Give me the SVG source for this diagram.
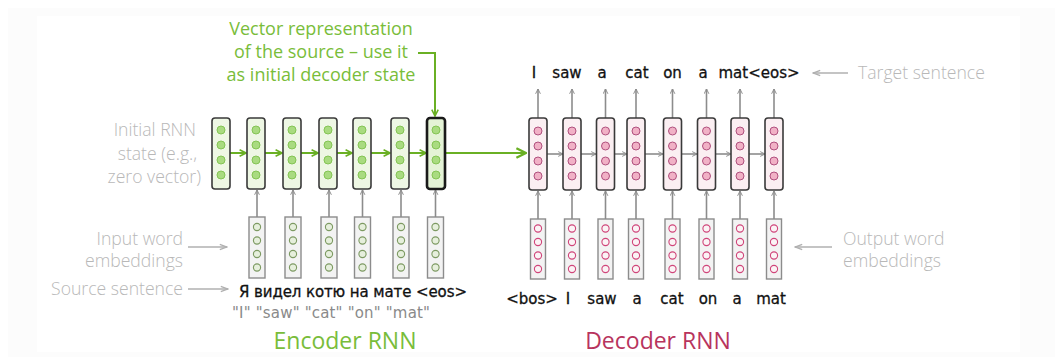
<svg xmlns="http://www.w3.org/2000/svg" width="1055" height="359" viewBox="0 0 1055 359">
<style>
.lbl{font-family:"Open Sans","Liberation Sans",sans-serif;font-size:17.6px;fill:#b8b8b8;font-weight:300}
.hw{font-family:"DejaVu Sans","Liberation Sans",sans-serif;font-size:15px;fill:#111;stroke:#111;stroke-width:0.3}
.q{font-family:"DejaVu Sans","Liberation Sans",sans-serif;font-size:15px;fill:#8a8a8a}
.grn{font-family:"Open Sans","Liberation Sans",sans-serif;font-size:18px;fill:#79bd3a}
.est{fill:#eef7e4;stroke:#3a3a3a;stroke-width:1.6}
.estL{fill:#e4f3d6;stroke:#1a1a1a;stroke-width:2.6}
.ec{fill:#a9db80;stroke:#84c454;stroke-width:1}
.eemb{fill:#f3f3f3;stroke:#8c8c8c;stroke-width:1.4}
.eec{fill:#e6efdc;stroke:#7d9a62;stroke-width:1.1}
.dst{fill:#fbeff2;stroke:#3a3a3a;stroke-width:1.6}
.dc{fill:#f1b1c6;stroke:#b0507e;stroke-width:1}
.demb{fill:#f3f3f3;stroke:#8c8c8c;stroke-width:1.4}
.dec{fill:#fbf3f5;stroke:#d0457a;stroke-width:1.1}
.ga{stroke:#8c8c8c;stroke-width:1.6;fill:none;marker-end:url(#ah)}
.la{stroke:#b0b0b0;stroke-width:1.5;fill:none;marker-end:url(#lh)}
.gr{stroke:#6ab024;stroke-width:2;fill:none;marker-end:url(#gh)}
</style>
<defs>
<marker id="ah" viewBox="0 0 10 10" refX="9" refY="5" markerWidth="6" markerHeight="6" markerUnits="userSpaceOnUse" orient="auto"><path d="M1,1 L9,5 L1,9" fill="none" stroke="#8c8c8c" stroke-width="1.6"/></marker>
<marker id="lh" viewBox="0 0 10 10" refX="9" refY="5" markerWidth="9" markerHeight="9" markerUnits="userSpaceOnUse" orient="auto"><path d="M1,2 L9,5 L1,8" fill="none" stroke="#b0b0b0" stroke-width="1.5"/></marker>
<marker id="gh" viewBox="0 0 10 10" refX="9" refY="5" markerWidth="8" markerHeight="8" markerUnits="userSpaceOnUse" orient="auto"><path d="M1,1 L9,5 L1,9" fill="none" stroke="#6ab024" stroke-width="2"/></marker>
<marker id="gh2" viewBox="0 0 10 10" refX="9" refY="5" markerWidth="12" markerHeight="12" markerUnits="userSpaceOnUse" orient="auto"><path d="M1,1 L9,5 L1,9" fill="none" stroke="#6ab024" stroke-width="2"/></marker>
</defs>
<rect x="0" y="0" width="1055" height="359" fill="#ffffff"/>
<rect x="8" y="8" width="1047" height="349" fill="#fcfcfc"/>
<rect x="37" y="16" width="983" height="336" fill="#ffffff"/>

<g id="connectors">
<!-- encoder recurrent -->
<line class="gr" x1="230" y1="153" x2="246" y2="153"/>
<line class="gr" x1="265" y1="153" x2="282" y2="153"/>
<line class="gr" x1="301" y1="153" x2="318" y2="153"/>
<line class="gr" x1="337" y1="153" x2="352" y2="153"/>
<line class="gr" x1="371" y1="153" x2="390" y2="153"/>
<line class="gr" x1="409" y1="153" x2="426" y2="153"/>
<line x1="446" y1="153" x2="526" y2="153" stroke="#6ab024" stroke-width="2.2" marker-end="url(#gh2)"/>
<path d="M418 53 H435 V116" stroke="#6ab024" stroke-width="2" fill="none" marker-end="url(#gh)"/>
<!-- encoder emb -> state -->
<line class="ga" x1="257" y1="217" x2="257" y2="190"/>
<line class="ga" x1="293" y1="217" x2="293" y2="190"/>
<line class="ga" x1="329" y1="217" x2="329" y2="190"/>
<line class="ga" x1="362.5" y1="217" x2="362.5" y2="190"/>
<line class="ga" x1="401" y1="217" x2="401" y2="190"/>
<line class="ga" x1="435.5" y1="217" x2="435.5" y2="190"/>
<!-- decoder recurrent -->
<line class="ga" x1="547" y1="154" x2="563" y2="154"/>
<line class="ga" x1="581" y1="154" x2="596" y2="154"/>
<line class="ga" x1="614" y1="154" x2="627" y2="154"/>
<line class="ga" x1="645" y1="154" x2="663" y2="154"/>
<line class="ga" x1="682" y1="154" x2="697" y2="154"/>
<line class="ga" x1="715" y1="154" x2="731" y2="154"/>
<line class="ga" x1="749" y1="154" x2="765" y2="154"/>
<!-- decoder emb -> state -->
<line class="ga" x1="538" y1="219" x2="538" y2="191"/>
<line class="ga" x1="572" y1="219" x2="572" y2="191"/>
<line class="ga" x1="605.5" y1="219" x2="605.5" y2="191"/>
<line class="ga" x1="636" y1="219" x2="636" y2="191"/>
<line class="ga" x1="672.5" y1="219" x2="672.5" y2="191"/>
<line class="ga" x1="706.5" y1="219" x2="706.5" y2="191"/>
<line class="ga" x1="740" y1="219" x2="740" y2="191"/>
<line class="ga" x1="774" y1="219" x2="774" y2="191"/>
<!-- decoder state -> output -->
<line class="ga" x1="538" y1="118" x2="538" y2="89"/>
<line class="ga" x1="572" y1="118" x2="572" y2="89"/>
<line class="ga" x1="605.5" y1="118" x2="605.5" y2="89"/>
<line class="ga" x1="636" y1="118" x2="636" y2="89"/>
<line class="ga" x1="672.5" y1="118" x2="672.5" y2="89"/>
<line class="ga" x1="706.5" y1="118" x2="706.5" y2="89"/>
<line class="ga" x1="740" y1="118" x2="740" y2="89"/>
<line class="ga" x1="774" y1="118" x2="774" y2="89"/>
<!-- label arrows -->
<line class="la" x1="188" y1="247" x2="227" y2="247"/>
<line class="la" x1="188" y1="289" x2="228" y2="289"/>
<line class="la" x1="848" y1="73" x2="813" y2="73"/>
<line class="la" x1="832" y1="247" x2="795" y2="247"/>
</g>

<g id="encoder-states">
<g id="enc-s1"><rect class="est" x="212" y="118" width="18" height="71" rx="3"/><circle class="ec" cx="221" cy="130" r="4"/><circle class="ec" cx="221" cy="145" r="4"/><circle class="ec" cx="221" cy="160" r="4"/><circle class="ec" cx="221" cy="175" r="4"/></g>
<g id="enc-s2"><rect class="est" x="247" y="118" width="18" height="71" rx="3"/><circle class="ec" cx="256" cy="130" r="4"/><circle class="ec" cx="256" cy="145" r="4"/><circle class="ec" cx="256" cy="160" r="4"/><circle class="ec" cx="256" cy="175" r="4"/></g>
<g id="enc-s3"><rect class="est" x="283" y="118" width="18" height="71" rx="3"/><circle class="ec" cx="292" cy="130" r="4"/><circle class="ec" cx="292" cy="145" r="4"/><circle class="ec" cx="292" cy="160" r="4"/><circle class="ec" cx="292" cy="175" r="4"/></g>
<g id="enc-s4"><rect class="est" x="319" y="118" width="18" height="71" rx="3"/><circle class="ec" cx="328" cy="130" r="4"/><circle class="ec" cx="328" cy="145" r="4"/><circle class="ec" cx="328" cy="160" r="4"/><circle class="ec" cx="328" cy="175" r="4"/></g>
<g id="enc-s5"><rect class="est" x="353" y="118" width="18" height="71" rx="3"/><circle class="ec" cx="362" cy="130" r="4"/><circle class="ec" cx="362" cy="145" r="4"/><circle class="ec" cx="362" cy="160" r="4"/><circle class="ec" cx="362" cy="175" r="4"/></g>
<g id="enc-s6"><rect class="est" x="391" y="118" width="18" height="71" rx="3"/><circle class="ec" cx="400" cy="130" r="4"/><circle class="ec" cx="400" cy="145" r="4"/><circle class="ec" cx="400" cy="160" r="4"/><circle class="ec" cx="400" cy="175" r="4"/></g>
<g id="enc-s7"><rect class="estL" x="427" y="118" width="18" height="71" rx="3"/><circle class="ec" cx="436" cy="130" r="4"/><circle class="ec" cx="436" cy="145" r="4"/><circle class="ec" cx="436" cy="160" r="4"/><circle class="ec" cx="436" cy="175" r="4"/></g>
</g>

<g id="encoder-embeddings">
<g id="enc-e1"><rect class="eemb" x="249" y="217" width="16" height="61"/><circle class="eec" cx="257" cy="227" r="3.6"/><circle class="eec" cx="257" cy="240.5" r="3.6"/><circle class="eec" cx="257" cy="254" r="3.6"/><circle class="eec" cx="257" cy="267.5" r="3.6"/></g>
<g id="enc-e2"><rect class="eemb" x="285" y="217" width="16" height="61"/><circle class="eec" cx="293" cy="227" r="3.6"/><circle class="eec" cx="293" cy="240.5" r="3.6"/><circle class="eec" cx="293" cy="254" r="3.6"/><circle class="eec" cx="293" cy="267.5" r="3.6"/></g>
<g id="enc-e3"><rect class="eemb" x="321" y="217" width="16" height="61"/><circle class="eec" cx="329" cy="227" r="3.6"/><circle class="eec" cx="329" cy="240.5" r="3.6"/><circle class="eec" cx="329" cy="254" r="3.6"/><circle class="eec" cx="329" cy="267.5" r="3.6"/></g>
<g id="enc-e4"><rect class="eemb" x="354.5" y="217" width="16" height="61"/><circle class="eec" cx="362.5" cy="227" r="3.6"/><circle class="eec" cx="362.5" cy="240.5" r="3.6"/><circle class="eec" cx="362.5" cy="254" r="3.6"/><circle class="eec" cx="362.5" cy="267.5" r="3.6"/></g>
<g id="enc-e5"><rect class="eemb" x="393" y="217" width="16" height="61"/><circle class="eec" cx="401" cy="227" r="3.6"/><circle class="eec" cx="401" cy="240.5" r="3.6"/><circle class="eec" cx="401" cy="254" r="3.6"/><circle class="eec" cx="401" cy="267.5" r="3.6"/></g>
<g id="enc-e6"><rect class="eemb" x="427.5" y="217" width="16" height="61"/><circle class="eec" cx="435.5" cy="227" r="3.6"/><circle class="eec" cx="435.5" cy="240.5" r="3.6"/><circle class="eec" cx="435.5" cy="254" r="3.6"/><circle class="eec" cx="435.5" cy="267.5" r="3.6"/></g>
</g>

<g id="decoder-states">
<g id="dec-s1"><rect class="dst" x="529" y="118" width="18" height="72" rx="3"/><circle class="dc" cx="538" cy="131" r="4"/><circle class="dc" cx="538" cy="146" r="4"/><circle class="dc" cx="538" cy="161" r="4"/><circle class="dc" cx="538" cy="176" r="4"/></g>
<g id="dec-s2"><rect class="dst" x="563" y="118" width="18" height="72" rx="3"/><circle class="dc" cx="572" cy="131" r="4"/><circle class="dc" cx="572" cy="146" r="4"/><circle class="dc" cx="572" cy="161" r="4"/><circle class="dc" cx="572" cy="176" r="4"/></g>
<g id="dec-s3"><rect class="dst" x="596.5" y="118" width="18" height="72" rx="3"/><circle class="dc" cx="605.5" cy="131" r="4"/><circle class="dc" cx="605.5" cy="146" r="4"/><circle class="dc" cx="605.5" cy="161" r="4"/><circle class="dc" cx="605.5" cy="176" r="4"/></g>
<g id="dec-s4"><rect class="dst" x="627" y="118" width="18" height="72" rx="3"/><circle class="dc" cx="636" cy="131" r="4"/><circle class="dc" cx="636" cy="146" r="4"/><circle class="dc" cx="636" cy="161" r="4"/><circle class="dc" cx="636" cy="176" r="4"/></g>
<g id="dec-s5"><rect class="dst" x="663.5" y="118" width="18" height="72" rx="3"/><circle class="dc" cx="672.5" cy="131" r="4"/><circle class="dc" cx="672.5" cy="146" r="4"/><circle class="dc" cx="672.5" cy="161" r="4"/><circle class="dc" cx="672.5" cy="176" r="4"/></g>
<g id="dec-s6"><rect class="dst" x="697.5" y="118" width="18" height="72" rx="3"/><circle class="dc" cx="706.5" cy="131" r="4"/><circle class="dc" cx="706.5" cy="146" r="4"/><circle class="dc" cx="706.5" cy="161" r="4"/><circle class="dc" cx="706.5" cy="176" r="4"/></g>
<g id="dec-s7"><rect class="dst" x="731" y="118" width="18" height="72" rx="3"/><circle class="dc" cx="740" cy="131" r="4"/><circle class="dc" cx="740" cy="146" r="4"/><circle class="dc" cx="740" cy="161" r="4"/><circle class="dc" cx="740" cy="176" r="4"/></g>
<g id="dec-s8"><rect class="dst" x="765" y="118" width="18" height="72" rx="3"/><circle class="dc" cx="774" cy="131" r="4"/><circle class="dc" cx="774" cy="146" r="4"/><circle class="dc" cx="774" cy="161" r="4"/><circle class="dc" cx="774" cy="176" r="4"/></g>
</g>

<g id="decoder-embeddings">
<g id="dec-e1"><rect class="demb" x="530.5" y="219" width="15" height="60"/><circle class="dec" cx="538" cy="228.5" r="3.6"/><circle class="dec" cx="538" cy="242" r="3.6"/><circle class="dec" cx="538" cy="255.5" r="3.6"/><circle class="dec" cx="538" cy="269" r="3.6"/></g>
<g id="dec-e2"><rect class="demb" x="564.5" y="219" width="15" height="60"/><circle class="dec" cx="572" cy="228.5" r="3.6"/><circle class="dec" cx="572" cy="242" r="3.6"/><circle class="dec" cx="572" cy="255.5" r="3.6"/><circle class="dec" cx="572" cy="269" r="3.6"/></g>
<g id="dec-e3"><rect class="demb" x="598" y="219" width="15" height="60"/><circle class="dec" cx="605.5" cy="228.5" r="3.6"/><circle class="dec" cx="605.5" cy="242" r="3.6"/><circle class="dec" cx="605.5" cy="255.5" r="3.6"/><circle class="dec" cx="605.5" cy="269" r="3.6"/></g>
<g id="dec-e4"><rect class="demb" x="628.5" y="219" width="15" height="60"/><circle class="dec" cx="636" cy="228.5" r="3.6"/><circle class="dec" cx="636" cy="242" r="3.6"/><circle class="dec" cx="636" cy="255.5" r="3.6"/><circle class="dec" cx="636" cy="269" r="3.6"/></g>
<g id="dec-e5"><rect class="demb" x="665" y="219" width="15" height="60"/><circle class="dec" cx="672.5" cy="228.5" r="3.6"/><circle class="dec" cx="672.5" cy="242" r="3.6"/><circle class="dec" cx="672.5" cy="255.5" r="3.6"/><circle class="dec" cx="672.5" cy="269" r="3.6"/></g>
<g id="dec-e6"><rect class="demb" x="699" y="219" width="15" height="60"/><circle class="dec" cx="706.5" cy="228.5" r="3.6"/><circle class="dec" cx="706.5" cy="242" r="3.6"/><circle class="dec" cx="706.5" cy="255.5" r="3.6"/><circle class="dec" cx="706.5" cy="269" r="3.6"/></g>
<g id="dec-e7"><rect class="demb" x="732.5" y="219" width="15" height="60"/><circle class="dec" cx="740" cy="228.5" r="3.6"/><circle class="dec" cx="740" cy="242" r="3.6"/><circle class="dec" cx="740" cy="255.5" r="3.6"/><circle class="dec" cx="740" cy="269" r="3.6"/></g>
<g id="dec-e8"><rect class="demb" x="766.5" y="219" width="15" height="60"/><circle class="dec" cx="774" cy="228.5" r="3.6"/><circle class="dec" cx="774" cy="242" r="3.6"/><circle class="dec" cx="774" cy="255.5" r="3.6"/><circle class="dec" cx="774" cy="269" r="3.6"/></g>
</g>

<g id="labels">
<text class="grn" text-anchor="middle" x="321" y="35">Vector representation</text>
<text class="grn" text-anchor="middle" x="321" y="58">of the source – use it</text>
<text class="grn" text-anchor="middle" x="321" y="81">as initial decoder state</text>
<text class="lbl" text-anchor="end" x="196" y="136">Initial RNN</text>
<text class="lbl" text-anchor="end" x="197" y="160">state (e.g.,</text>
<text class="lbl" text-anchor="end" x="201" y="183">zero vector)</text>
<text class="lbl" text-anchor="end" x="183" y="245">Input word</text>
<text class="lbl" text-anchor="end" x="183" y="267">embeddings</text>
<text class="lbl" text-anchor="end" x="183" y="295">Source sentence</text>
<text class="lbl" x="858" y="79">Target sentence</text>
<text class="lbl" x="843" y="245">Output word</text>
<text class="lbl" x="843" y="267">embeddings</text>
<text class="hw" x="239" y="297" textLength="228" lengthAdjust="spacing">Я видел котю на мате &lt;eos&gt;</text>
<text class="q" x="232" y="318" textLength="198" lengthAdjust="spacing">"I" "saw" "cat" "on" "mat"</text>
<text class="grn" style="font-size:23px" text-anchor="middle" x="345" y="349">Encoder RNN</text>
<text style="font-family:'Open Sans','Liberation Sans',sans-serif;font-size:23px;fill:#b8345d" text-anchor="middle" x="658" y="349">Decoder RNN</text>
<g class="hw" text-anchor="middle">
<text x="534" y="78">I</text>
<text x="567" y="78">saw</text>
<text x="602" y="78">a</text>
<text x="637" y="78">cat</text>
<text x="672.5" y="78">on</text>
<text x="703" y="78">a</text>
<text x="759" y="78">mat&lt;eos&gt;</text>
<text x="532" y="304">&lt;bos&gt;</text>
<text x="568" y="304">I</text>
<text x="602" y="304">saw</text>
<text x="637" y="304">a</text>
<text x="672" y="304">cat</text>
<text x="708" y="304">on</text>
<text x="737" y="304">a</text>
<text x="771" y="304">mat</text>
</g>
</g>
</svg>
